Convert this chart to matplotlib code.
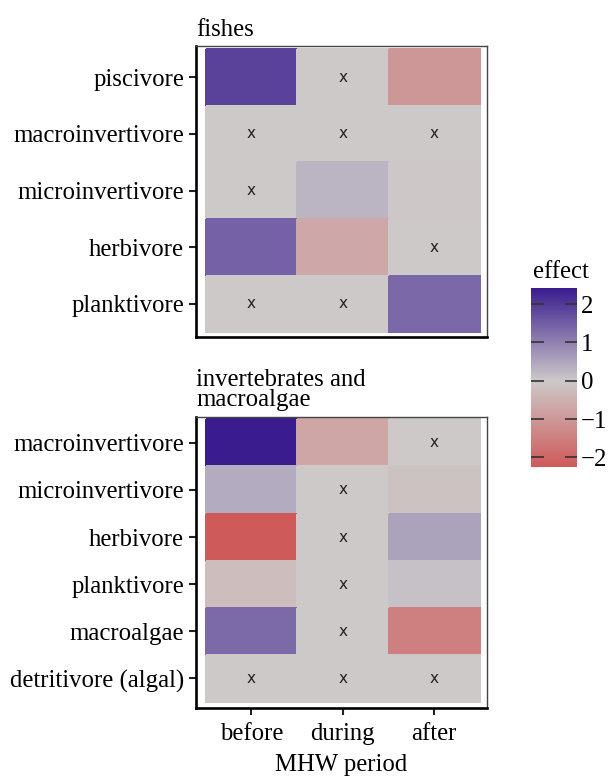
import matplotlib
matplotlib.use("Agg")
import matplotlib.pyplot as plt
import numpy as np
from matplotlib.colors import LinearSegmentedColormap, Normalize
from matplotlib.cm import ScalarMappable

plt.rcParams['font.family'] = ['Liberation Serif', 'DejaVu Serif']

periods = ['before', 'during', 'after']

# fishes: effect per guild and MHW period, sig = significant effect
fish_groups = ['piscivore', 'macroinvertivore', 'microinvertivore', 'herbivore', 'planktivore']
fish_effect = [
    [1.89, 0.0, -1.0],
    [0.0, 0.0, 0.0],
    [0.0, 0.30, -0.03],
    [1.45, -0.68, 0.0],
    [0.0, 0.0, 1.36],
]
fish_sig = [
    [1, 0, 1],
    [0, 0, 0],
    [0, 1, 1],
    [1, 1, 0],
    [0, 0, 1],
]

# invertebrates and macroalgae
inv_groups = ['macroinvertivore', 'microinvertivore', 'herbivore', 'planktivore',
              'macroalgae', 'detritivore (algal)']
inv_effect = [
    [2.42, -0.70, 0.0],
    [0.42, 0.0, -0.15],
    [-2.25, 0.0, 0.55],
    [-0.24, 0.0, 0.12],
    [1.34, 0.0, -1.50],
    [0.0, 0.0, 0.0],
]
inv_sig = [
    [1, 1, 0],
    [1, 0, 1],
    [1, 0, 1],
    [1, 0, 1],
    [1, 0, 1],
    [0, 0, 0],
]

vmin, vmax = -2.25, 2.42
mid = (0 - vmin) / (vmax - vmin)
cmap = LinearSegmentedColormap.from_list(
    'effect', [(0, '#cf5a5a'), (mid, '#cdc9c9'), (1, '#3a1c8e')])
norm = Normalize(vmin=vmin, vmax=vmax)

FS = 17.8
W, H = 612, 776
fig = plt.figure(figsize=(W / 100, H / 100), dpi=100)


def px_axes(x0, y0, x1, y1):
    return fig.add_axes([x0 / W, 1 - y1 / H, (x1 - x0) / W, (y1 - y0) / H])


def heat(ax, groups, effect, sig, row_px, top_pad, bot_pad, show_x):
    vals = np.array(effect)
    n = len(groups)
    ax.pcolormesh([0.5, 1.5, 2.5, 3.5], np.arange(n + 1), vals, cmap=cmap, norm=norm,
                  edgecolor='face', linewidth=0.2)
    for i in range(n):
        for j in range(3):
            if not sig[i][j]:
                ax.text(j + 1, i + 0.5, 'x', ha='center', va='center', fontsize=11,
                        color='#222222', family='DejaVu Sans')
    ax.set_xlim(0.5 - 9.7 / 91.4, 3.5 + 7 / 91.4)
    ax.set_ylim(n + bot_pad / row_px, -top_pad / row_px)
    ax.set_yticks(np.arange(n) + 0.5)
    ax.set_yticklabels(groups, fontsize=FS)
    ax.set_xticks([1, 2, 3])
    ax.tick_params(axis='both', width=1.5, length=5, color='#222222', pad=3.5)
    if show_x:
        ax.set_xticklabels(periods, fontsize=FS)
        ax.tick_params(axis='x', pad=6)
    else:
        ax.set_xticklabels([])
        ax.tick_params(axis='x', length=0)
    for s in ['left', 'bottom']:
        ax.spines[s].set_linewidth(1.9)
        ax.spines[s].set_color('black')
    for s in ['top', 'right']:
        ax.spines[s].set_linewidth(1.0)
        ax.spines[s].set_color('#444444')


ax1 = px_axes(196, 46, 487, 337)
heat(ax1, fish_groups, fish_effect, fish_sig, 56.6, 3, 4.7, False)
ax1.text(0, 1.018, 'fishes', transform=ax1.transAxes, fontsize=FS, va='bottom', ha='left')

ax2 = px_axes(196, 417, 487, 708)
heat(ax2, inv_groups, inv_effect, inv_sig, 47.2, 2.3, 6, True)
ax2.text(0, 1.02, 'invertebrates and\nmacroalgae', transform=ax2.transAxes, fontsize=FS,
         va='bottom', ha='left', linespacing=0.88)
ax2.set_xlabel('MHW period', fontsize=FS, labelpad=6)

# colour bar
cax = px_axes(531, 288, 577, 467)
cb = fig.colorbar(ScalarMappable(norm=norm, cmap=cmap), cax=cax)
cb.outline.set_visible(False)
cb.set_ticks([-2, -1, 0, 1, 2])
cb.set_ticklabels(['\u22122', '\u22121', '0', '1', '2'])
cax.tick_params(direction='in', length=9, width=1.2, color='#333333', left=True,
                right=True, labelsize=FS, pad=3)
cax.text(0.05, 1.03, 'effect', transform=cax.transAxes, fontsize=FS, va='bottom', ha='left')

fig.savefig('out.png', dpi=100)
